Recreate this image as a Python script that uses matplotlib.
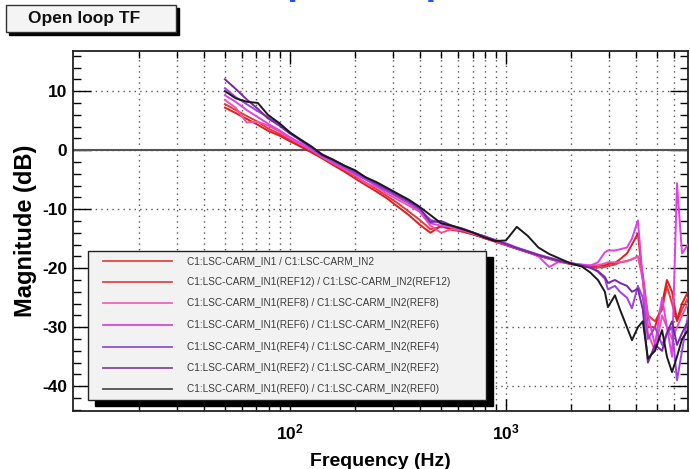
import matplotlib
matplotlib.use("Agg")
import matplotlib.pyplot as plt
from matplotlib.patches import Rectangle
from matplotlib.lines import Line2D
from matplotlib.ticker import FixedLocator, MultipleLocator, NullFormatter, FixedFormatter

plt.rcParams['font.family'] = ['Liberation Sans', 'DejaVu Sans']
plt.rcParams['mathtext.fontset'] = 'custom'
plt.rcParams['mathtext.rm'] = 'Liberation Sans:bold'
plt.rcParams['mathtext.bf'] = 'Liberation Sans:bold'
plt.rcParams['mathtext.it'] = 'Liberation Sans:bold'

# ---------------- data ----------------
freqs = [50, 56, 63, 71, 79, 89, 100, 112, 126, 141, 158, 178, 200, 224, 251, 282,
         316, 355, 398, 447, 501, 562, 631, 708, 794, 891, 1000, 1122, 1259, 1413,
         1585, 1778, 1995, 2240, 2450, 2665, 2870, 2965, 3195, 3370, 3630, 3830,
         4080, 4300, 4540, 4895, 5280, 5560, 5870, 6190, 6530, 6960]

mag_live = [7.8, 6.8, 5.8, 4.8, 3.7, 2.8, 1.8, 0.8, -0.2, -1.2, -2.2, -3.3, -4.4, -5.5,
            -6.6, -7.8, -9.0, -10.4, -11.8, -13.4, -13.0, -13.3, -13.8, -14.3, -14.9,
            -15.5, -16.1, -16.7, -17.3, -17.9, -18.4, -18.9, -19.3, -19.6, -19.9, -19.9,
            -19.8, -19.6, -19.4, -19.0, -18.8, -18.5, -18.0, -21.0, -28.0, -29.0, -27.0,
            -23.0, -26.0, -29.0, -27.0, -25.0]
mag_ref12 = [7.2, 6.3, 5.3, 4.3, 3.3, 2.5, 1.5, 0.6, -0.4, -1.4, -2.5, -3.6, -4.8, -5.9,
             -7.0, -8.2, -9.6, -11.0, -12.6, -14.0, -12.8, -13.5, -13.8, -14.3, -14.9,
             -15.5, -16.1, -16.7, -17.3, -17.9, -18.4, -18.9, -19.3, -19.6, -19.8, -19.6,
             -19.5, -19.3, -19.1, -18.5, -17.5, -16.0, -14.1, -22.0, -30.0, -30.0, -26.0,
             -22.0, -24.0, -28.8, -26.0, -24.0]
mag_ref8 = [8.5, 7.2, 4.7, 4.8, 4.2, 3.2, 2.0, 1.0, 0.0, -1.2, -2.2, -3.2, -4.2, -5.6,
            -6.2, -7.4, -8.4, -9.4, -10.4, -12.8, -14.0, -13.4, -13.6, -14.2, -14.8,
            -15.4, -16.0, -16.6, -17.2, -17.8, -18.4, -18.9, -19.2, -19.4, -19.5, -19.5,
            -19.2, -19.0, -19.0, -19.0, -18.8, -18.5, -18.0, -22.0, -31.0, -34.0, -28.0,
            -30.0, -32.0, -30.0, -28.0, -26.0]
mag_ref6 = [9.3, 8.2, 6.8, 5.6, 4.5, 3.4, 2.2, 1.2, 0.0, -1.0, -2.0, -3.0, -4.0, -5.0,
            -6.0, -7.0, -8.0, -9.0, -10.4, -12.4, -12.8, -13.0, -13.5, -14.1, -14.7,
            -15.3, -16.0, -16.6, -17.2, -18.0, -19.8, -18.8, -19.2, -19.4, -19.6, -19.0,
            -17.3, -17.0, -17.0, -16.8, -16.5, -15.0, -11.9, -22.0, -28.0, -33.0, -25.0,
            -30.0, -35.0, -5.6, -17.5, -16.0]
mag_ref4 = [10.5, 9.0, 7.8, 6.6, 5.6, 4.6, 3.0, 1.6, 0.3, -0.9, -1.9, -2.9, -3.9, -4.9,
            -5.9, -6.9, -7.9, -8.9, -10.0, -11.8, -12.4, -12.9, -13.4, -14.0, -14.6,
            -15.2, -15.8, -16.5, -17.1, -17.7, -18.2, -18.7, -19.1, -19.5, -19.8, -20.6,
            -21.8, -23.6, -23.0, -24.0, -25.0, -26.8, -23.0, -25.0, -32.0, -30.0, -33.0,
            -31.0, -30.0, -39.0, -34.0, -28.0]
mag_ref2 = [12.0, 10.4, 8.6, 7.0, 5.4, 4.2, 2.8, 1.7, 0.5, -0.7, -1.6, -2.6, -3.6, -4.6,
            -5.6, -6.6, -7.6, -8.6, -9.8, -12.2, -12.0, -12.8, -13.3, -14.0, -14.6,
            -15.3, -15.9, -16.6, -17.2, -17.8, -18.3, -18.8, -19.2, -19.6, -19.9, -20.5,
            -21.5, -22.5, -22.0, -22.5, -23.0, -24.0, -23.5, -27.0, -36.0, -33.0, -34.0,
            -31.0, -29.0, -33.0, -31.0, -29.0]
mag_ref0 = [10.0, 8.8, 8.2, 8.0, 6.0, 4.6, 3.0, 1.8, 0.6, -0.8, -1.6, -2.6, -3.4, -4.6,
            -5.4, -6.4, -7.4, -8.4, -9.6, -11.0, -12.4, -12.8, -13.4, -14.0, -14.8,
            -15.4, -15.3, -13.0, -14.5, -16.5, -17.6, -18.4, -19.2, -19.7, -20.7, -22.0,
            -24.0, -26.6, -24.6, -27.0, -30.0, -32.2, -30.0, -29.0, -35.3, -34.0, -30.5,
            -35.0, -37.6, -35.0, -32.0, -30.5]

series_labels = ["C1:LSC-CARM_IN1 / C1:LSC-CARM_IN2",
                 "C1:LSC-CARM_IN1(REF12) / C1:LSC-CARM_IN2(REF12)",
                 "C1:LSC-CARM_IN1(REF8) / C1:LSC-CARM_IN2(REF8)",
                 "C1:LSC-CARM_IN1(REF6) / C1:LSC-CARM_IN2(REF6)",
                 "C1:LSC-CARM_IN1(REF4) / C1:LSC-CARM_IN2(REF4)",
                 "C1:LSC-CARM_IN1(REF2) / C1:LSC-CARM_IN2(REF2)",
                 "C1:LSC-CARM_IN1(REF0) / C1:LSC-CARM_IN2(REF0)"]
series_values = [mag_live, mag_ref12, mag_ref8, mag_ref6, mag_ref4, mag_ref2, mag_ref0]
series_colors = ['#e8383c', '#e01c1c', '#f050a8', '#e040e8', '#a040e0', '#7828a0', '#1a1a1a']
legend_colors = ['#e04848', '#e04848', '#e868b8', '#d848d8', '#9050d0', '#8048a8', '#505050']

y_ticks = [10, 0, -10, -20, -30, -40]
x_ticks = [100, 1000]
x_tick_labels = [r'$10^{2}$', r'$10^{3}$']
x_minor = [20, 30, 40, 50, 60, 70, 80, 90, 200, 300, 400, 500, 600, 700, 800, 900,
           2000, 3000, 4000, 5000, 6000]

# ---------------- figure ----------------
W, H = 690, 469
fig = plt.figure(figsize=(W / 100, H / 100), dpi=100)
fig.patch.set_facecolor('white')

ax_l, ax_r, ax_t, ax_b = 73, 688, 51, 411
ax = fig.add_axes([ax_l / W, (H - ax_b) / H, (ax_r - ax_l) / W, (ax_b - ax_t) / H])

for vals, col in zip(series_values, series_colors):
    ax.semilogx(freqs, vals, color=col, lw=1.4, zorder=3)

ax.set_xscale('log')
ax.set_xlim(9.9, 6960)
ax.set_ylim(-44.2, 16.8)

ax.xaxis.set_major_locator(FixedLocator(x_ticks))
ax.xaxis.set_major_formatter(FixedFormatter(x_tick_labels))
ax.xaxis.set_minor_locator(FixedLocator(x_minor))
ax.xaxis.set_minor_formatter(NullFormatter())
ax.yaxis.set_major_locator(FixedLocator(y_ticks))
ax.yaxis.set_minor_locator(MultipleLocator(2))
ax.set_yticklabels([str(v) for v in y_ticks])

ax.tick_params(which='major', axis='y', direction='in', length=13, width=1.0,
               left=True, right=True, labelsize=12.5, pad=4)
ax.tick_params(which='minor', axis='y', direction='in', length=6, width=1.0,
               left=True, right=True)
ax.tick_params(which='major', axis='x', direction='in', length=9, width=1.0,
               top=True, bottom=True, labelsize=12.5, pad=8)
ax.tick_params(which='minor', axis='x', direction='in', length=5, width=1.0,
               top=True, bottom=True)
for lab in ax.get_yticklabels():
    lab.set_fontweight('bold')

ax.grid(True, which='both', axis='x', color='#555555', lw=1.0, linestyle=(0, (1, 3)), zorder=1)
ax.grid(True, which='major', axis='y', color='#555555', lw=1.0, linestyle=(0, (1, 3)), zorder=1)
ax.axhline(0, color='#555555', lw=1.5, zorder=2)
for sp in ax.spines.values():
    sp.set_linewidth(1.3)
    sp.set_color('#222222')

ax.set_xlabel('Frequency (Hz)', fontsize=14, fontweight='bold', labelpad=8)
ax.set_ylabel('Magnitude (dB)', fontsize=17, fontweight='bold', labelpad=4)

# ---------------- legend box (ROOT style with shadow) ----------------
def fx(px):
    return px / W

def fy(py):
    return (H - py) / H

lg_l, lg_r, lg_t, lg_b = 88, 486, 251, 400
shadow = Rectangle((fx(lg_l + 7), fy(lg_b + 6)), fx(lg_r - lg_l), (lg_b - lg_t) / H,
                   transform=fig.transFigure, facecolor='black', edgecolor='black', zorder=10)
box = Rectangle((fx(lg_l), fy(lg_b)), fx(lg_r - lg_l), (lg_b - lg_t) / H,
                transform=fig.transFigure, facecolor='#f2f2f2', edgecolor='#222222',
                lw=1.0, zorder=11)
fig.add_artist(shadow)
fig.add_artist(box)
row_y = [261, 282, 303, 325, 347, 368, 389]
for yy, lab, col in zip(row_y, series_labels, legend_colors):
    fig.add_artist(Line2D([fx(103), fx(172)], [fy(yy), fy(yy)], transform=fig.transFigure,
                          color=col, lw=1.3, zorder=12))
    fig.text(fx(187), fy(yy), lab, fontsize=7.2, color='#3a3a3a', va='center', ha='left',
             zorder=12)

# ---------------- title pad "Open loop TF" ----------------
tb_l, tb_r, tb_t, tb_b = 6, 176, 5, 32
fig.add_artist(Rectangle((fx(tb_l + 3), fy(tb_b + 3)), fx(tb_r - tb_l), (tb_b - tb_t) / H,
                         transform=fig.transFigure, facecolor='black', edgecolor='black',
                         zorder=10))
fig.add_artist(Rectangle((fx(tb_l), fy(tb_b)), fx(tb_r - tb_l), (tb_b - tb_t) / H,
                         transform=fig.transFigure, facecolor='#f4f4f4', edgecolor='#333333',
                         lw=1.0, zorder=11))
fig.text(fx(84), fy(19), 'Open loop TF', fontsize=12.5, fontweight='bold', color='#111111',
         ha='center', va='center', zorder=12)

# cut-off blue title at the very top (only the descenders are visible in the reference)
fig.text(fx(257), 1 + 6 / H, 'Open loop', fontsize=28, fontweight='bold', color='#2255ee',
         ha='left', va='baseline')

fig.savefig('out.png', dpi=100)
